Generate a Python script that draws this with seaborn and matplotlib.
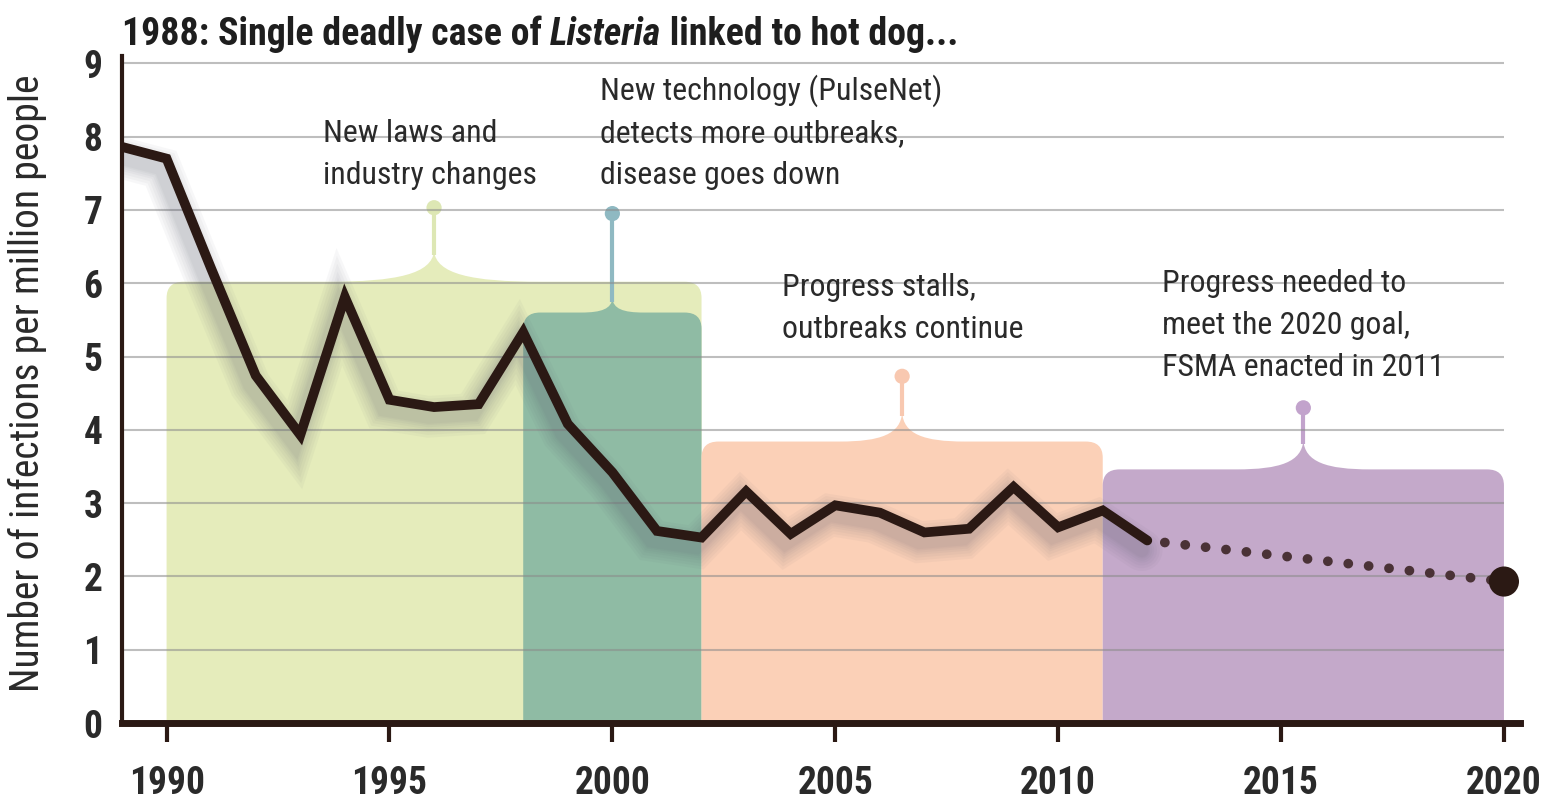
import matplotlib
matplotlib.use("Agg")
import matplotlib.pyplot as plt
import matplotlib.patheffects as pe
from matplotlib.path import Path
from matplotlib.patches import PathPatch
from matplotlib import font_manager
import pandas as pd
import seaborn as sns

# Listeria infections per million people, observed years
years = [1989, 1990, 1991, 1992, 1993, 1994, 1995, 1996, 1997, 1998, 1999,
         2000, 2001, 2002, 2003, 2004, 2005, 2006, 2007, 2008, 2009, 2010,
         2011, 2012]
rates = [7.86, 7.7, 6.2, 4.74, 3.93, 5.81, 4.41, 4.31, 4.35, 5.33, 4.08,
         3.42, 2.62, 2.53, 3.16, 2.58, 2.97, 2.87, 2.6, 2.65, 3.22, 2.67,
         2.9, 2.49]

# Path from the last observation to the 2020 goal
goal_years = [2012, 2020]
goal_rates = [2.49, 1.93]

# Policy eras drawn as shaded blocks
era_starts = [1990, 1998, 2002, 2011]
era_ends = [2002, 2002, 2011, 2020]
era_heights = [6.02, 5.6, 3.84, 3.46]
era_pins = [7.03, 6.95, 4.73, 4.3]
era_labels = [["New laws and", "industry changes"],
              ["New technology (PulseNet)", "detects more outbreaks,", "disease goes down"],
              ["Progress stalls,", "outbreaks continue"],
              ["Progress needed to", "meet the 2020 goal,", "FSMA enacted in 2011"]]
label_x = [1993.5, 1999.72, 2003.8, 2012.32]
label_y = [7.92, 8.5, 5.82, 5.88]

y_ticks = list(range(0, 10))
x_ticks = [1990, 1995, 2000, 2005, 2010, 2015, 2020]

fill_colors = ["#e5ecbb", "#8fbba4", "#fbd0b7", "#c4a9ca"]
pin_colors = ["#dde7b4", "#8fb9c2", "#f8c8b0", "#c2a3cc"]
bump_rise = [0.42, 0.2, 0.4, 0.4]
bump_half = [2.4, 0.7, 1.4, 1.5]

sns.set_theme(style="white")
installed = {f.name for f in font_manager.fontManager.ttflist}
family = "DejaVu Sans"
for cand in ["Roboto Condensed", "Archivo Narrow", "Fira Sans Condensed",
             "PT Sans Narrow", "Liberation Sans Narrow", "Barlow Semi Condensed"]:
    if cand in installed:
        family = cand
        break
plt.rcParams["font.family"] = [family, "DejaVu Sans"]

ink = "#2b1914"
text_col = "#2a2a2a"
W, H = 1551, 809
fig = plt.figure(figsize=(W / 100, H / 100), dpi=100)
renderer = fig.canvas.get_renderer()


def fitted_size(s, target_px, **kw):
    t = fig.text(0, 0, s, fontsize=20, **kw)
    w = t.get_window_extent(renderer=renderer).width
    t.remove()
    return 20 * target_px / w


title_parts = [("1988: Single deadly case of ", "normal"), ("Listeria", "italic"),
               (" linked to hot dog...", "normal")]
tick_fs = fitted_size("1990", 76, fontweight="bold")
note_fs = fitted_size("industry changes", 214)
ylab_fs = fitted_size("Number of infections per million people", 615)

ax = fig.add_axes([122 / W, 1 - 723 / H, (1520 - 122) / W, (723 - 56) / H])
ax.set_xlim(1989, 2020.36)
ax.set_ylim(0, 9.1)


def era_path(x0, x1, h, rise, half):
    rx, ry = 0.38, 0.22
    xm = (x0 + x1) / 2
    top = h + rise
    verts = [(x0, 0), (x0, h - ry), (x0, h), (x0 + rx, h),
             (xm - half, h),
             (xm - 0.35 * half, h), (xm - 0.02 * half, h + 0.25 * rise), (xm, top),
             (xm + 0.02 * half, h + 0.25 * rise), (xm + 0.35 * half, h), (xm + half, h),
             (x1 - rx, h), (x1, h), (x1, h - ry),
             (x1, 0), (x0, 0)]
    codes = [Path.MOVETO, Path.LINETO, Path.CURVE3, Path.CURVE3,
             Path.LINETO,
             Path.CURVE4, Path.CURVE4, Path.CURVE4,
             Path.CURVE4, Path.CURVE4, Path.CURVE4,
             Path.LINETO, Path.CURVE3, Path.CURVE3,
             Path.LINETO, Path.CLOSEPOLY]
    return Path(verts, codes), xm, top


for i in range(len(era_starts)):
    path, xm, top = era_path(era_starts[i], era_ends[i], era_heights[i],
                             bump_rise[i], bump_half[i])
    ax.add_patch(PathPatch(path, facecolor=fill_colors[i], edgecolor="none",
                           zorder=1 + i * 0.1))
    ax.plot([xm, xm], [top - 0.05, era_pins[i]], color=pin_colors[i], lw=3.0,
            solid_capstyle="butt", zorder=1.5)
    ax.scatter([xm], [era_pins[i]], s=120, color=pin_colors[i], zorder=1.6,
               edgecolors="none")

# Horizontal guide lines sit over the shaded eras
ax.hlines(y_ticks[1:], 1989, 2020, color="#8a8a8a", lw=1.5, alpha=0.55, zorder=2)

# Soft drop shadow under the trend line, built from stacked translucent strokes
shadow = [pe.SimpleLineShadow(offset=(-4, -7), shadow_color="#55586a",
                              alpha=0.045, linewidth=w)
          for w in (30, 26, 22, 18, 15, 12, 10)]
shadow.append(pe.Normal())

df = pd.DataFrame({"year": years, "rate": rates})
sns.lineplot(data=df, x="year", y="rate", ax=ax, color=ink, lw=7,
             solid_joinstyle="miter", solid_capstyle="round", zorder=5,
             path_effects=shadow)

goal_df = pd.DataFrame({"year": goal_years, "rate": goal_rates})
sns.lineplot(data=goal_df, x="year", y="rate", ax=ax, color="#4a3236", lw=7,
             zorder=5)
dots = ax.lines[-1]
dots.set_linestyle((0.3, (0.01, 2.1)))
dots.set_dash_capstyle("round")
ax.scatter([goal_years[-1]], [goal_rates[-1]], s=470, color=ink, zorder=6,
           edgecolors="none")

line_step = 0.573
for lines, lx, ly in zip(era_labels, label_x, label_y):
    for k, s in enumerate(lines):
        ax.text(lx, ly - k * line_step, s, fontsize=note_fs, color=text_col,
                ha="left", va="baseline", zorder=7)

ax.set_xlabel("")
ax.set_ylabel("")
fig.text(27 / W, 1 - 383 / H, "Number of infections per million people",
         fontsize=ylab_fs, color=text_col, rotation=90, ha="center", va="center")
ax.set_xticks(x_ticks)
ax.set_yticks(y_ticks)
ax.set_xticklabels([str(t) for t in x_ticks], fontsize=tick_fs, fontweight="bold",
                   color=text_col)
ax.set_yticklabels([str(t) for t in y_ticks], fontsize=tick_fs, fontweight="bold",
                   color=text_col)
ax.tick_params(axis="x", direction="out", length=14, width=3, color=ink, pad=16,
               bottom=True)
ax.tick_params(axis="y", length=0, pad=14)

for side in ["top", "right"]:
    ax.spines[side].set_visible(False)
ax.spines["left"].set_color(ink)
ax.spines["left"].set_linewidth(3)
ax.spines["bottom"].set_color(ink)
ax.spines["bottom"].set_linewidth(5)
ax.spines["left"].set_zorder(8)
ax.spines["bottom"].set_zorder(8)

# Title with an italic genus name, sized to span the plot's upper edge
widths = []
for s, style in title_parts:
    t = fig.text(0, 0, s, fontsize=20, fontweight="bold", fontstyle=style)
    widths.append(t.get_window_extent(renderer=renderer).width)
    t.remove()
title_fs = 20 * 836 / sum(widths)
tx, ty = 122 / W, 1 - 45 / H
for (s, style), w in zip(title_parts, widths):
    fig.text(tx, ty, s, fontsize=title_fs, fontweight="bold", fontstyle=style,
             color="#1e1e1e", ha="left", va="baseline")
    tx += w * title_fs / 20 / W

fig.savefig("out.png", dpi=100)
